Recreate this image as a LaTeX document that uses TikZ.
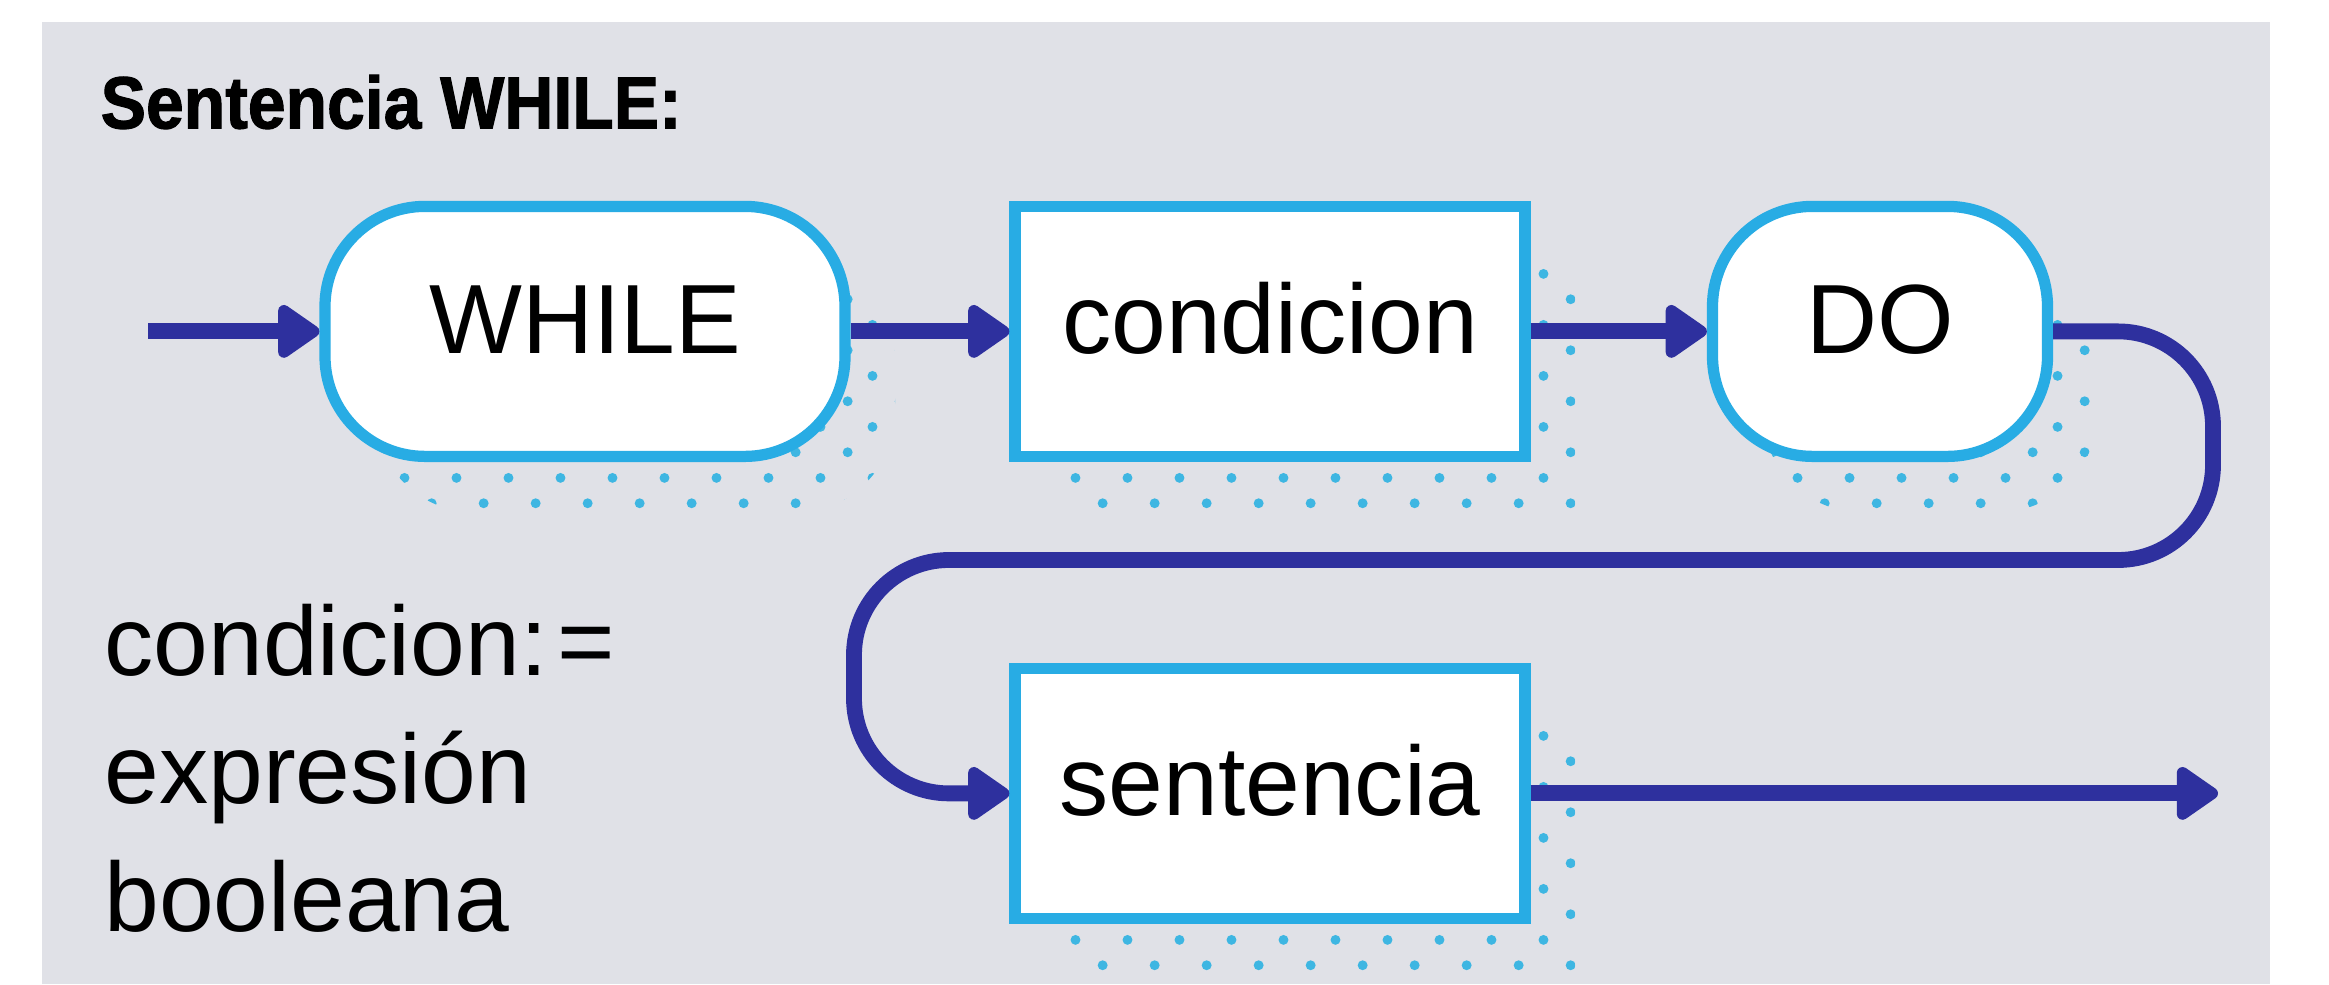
\documentclass[tikz,border=0pt]{standalone}
\usepackage{fontspec}
\setmainfont{Liberation Sans}
\newfontfamily\titlefont[FakeBold=1.6]{Liberation Sans Bold}
\usetikzlibrary{arrows.meta,shadows,patterns.meta}
\definecolor{bggray}{RGB}{224,225,231}
\definecolor{boxcyan}{RGB}{40,172,228}
\definecolor{dotcyan}{RGB}{62,182,226}
\definecolor{arrowblue}{RGB}{46,48,158}
\tikzdeclarepattern{
  name=shadowdots,
  type=uncolored,
  bottom left={(0cm,0cm)},
  top right={(0.516cm,0.513cm)},
  tile size={(0.516cm,0.513cm)},
  code={
    \fill (0.188cm,0.200cm) circle (0.05cm);
    \fill (0.438cm,0.457cm) circle (0.05cm);
  }
}
\tikzset{
  dotshadow/.style={drop shadow={shadow xshift=0.5cm, shadow yshift=-0.56cm,
      fill=none, opacity=1, pattern=shadowdots, pattern color=dotcyan}},
  bigtext/.style={font=\fontsize{28}{36.4}\selectfont},
  boxnode/.style={draw=boxcyan, line width=3.2pt, fill=white, bigtext,
      minimum width=5.1cm, minimum height=2.5cm,
      text height=0.71cm, text depth=0.26cm, dotshadow},
  kwnode/.style={boxnode, rounded corners=1.0cm},
  flow/.style={draw=arrowblue, line width=4.5pt, rounded corners=0.95cm,
      -{Triangle[length=0.46cm,width=0.6cm,round]}}
}
\begin{document}
\begin{tikzpicture}
    \useasboundingbox (0,0) rectangle (23.29,9.84);
    \fill[bggray] (0.42,0) rectangle (22.70,9.62);

    \node[anchor=west, inner sep=0pt, font=\fontsize{21}{24}\titlefont] (title) at (1.0,8.82) {\scalebox{0.92}[1]{Sentencia WHILE:}};

    \node[kwnode, minimum width=5.2cm] (kw1) at (5.85,6.526) {WHILE};
    \node[boxnode] (cond) at (12.70,6.526) {condicion};
    \node[kwnode, minimum width=3.35cm] (kw2) at (18.80,6.526) {DO};
    \node[boxnode] (stmt) at (12.70,1.906) {sentencia};

    \node[bigtext, align=left, anchor=north west] (note) at (0.92,3.92) {condicion:\kern0.1em=\\expresión\\booleana};

    \coordinate (in) at (1.48,6.526);
    \coordinate (out) at (22.18,1.906);
    \coordinate (r1) at (22.13,6.526);
    \coordinate (r2) at (22.13,4.24);
    \coordinate (l1) at (8.54,4.24);
    \coordinate (l2) at (8.54,1.906);

    \draw[flow] (in) -- (kw1);
    \draw[flow] (kw1) -- (cond);
    \draw[flow] (cond) -- (kw2);
    \draw[flow] (kw2.east) -- (r1) -- (r2) -- (l1) -- (l2) -- (stmt.west);
    \draw[flow] (stmt) -- (out);
\end{tikzpicture}
\end{document}
